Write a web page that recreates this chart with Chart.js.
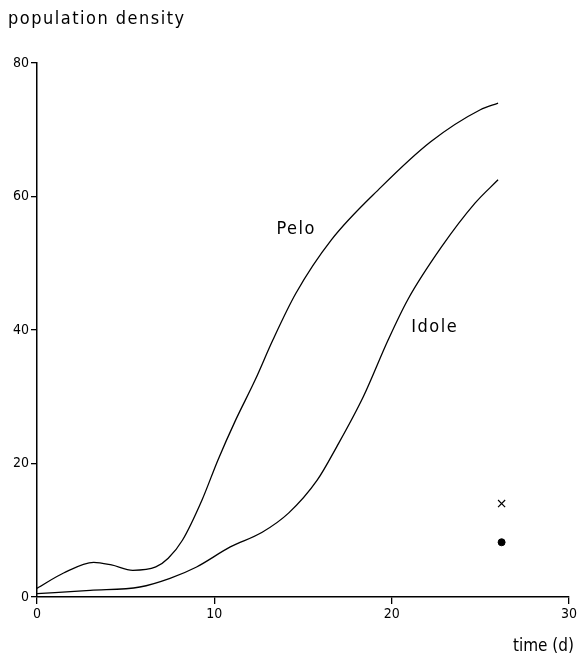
<!DOCTYPE html>
<html>
<head>
<meta charset="utf-8">
<script src="https://cdn.jsdelivr.net/npm/chart.js@4"></script>
<style>
  html, body { margin: 0; padding: 0; background: #fff; }
  #wrap { width: 579px; height: 667px; position: relative; }
</style>
</head>
<body>
<div id="wrap"><canvas id="chart"></canvas></div>
<script>
// Data
const peloDays = [0, 1.5, 3.2, 4.2, 5.4, 6.7, 7.4, 8.2, 9.3, 10.2, 11.2, 12.3, 13.3, 14.6, 16.6, 19.4, 22.2, 25, 26];
const peloDensity = [1.3, 3.6, 5.2, 4.8, 4.0, 4.5, 5.8, 8.5, 14.5, 20.5, 26.5, 32.5, 38.5, 45.5, 53.5, 61.4, 68.2, 73, 74];

const idoleDays = [0, 3, 5.8, 7.5, 9, 10.9, 12.7, 14.2, 15.8, 16.9, 18.4, 19.8, 20.9, 22.8, 24.7, 26];
const idoleDensity = [0.5, 1.0, 1.5, 2.8, 4.5, 7.5, 9.7, 12.6, 17.5, 22.5, 30, 38.5, 44.5, 52.4, 59, 62.5];

const crossPoint = [{ x: 26.2, y: 14 }];
const dotPoint = [{ x: 26.2, y: 8.2 }];

const xTicks = [0, 10, 20, 30];
const yTicks = [0, 20, 40, 60, 80];

const curveLabels = [
  { text: "Pelo", x: 13.5, y: 55.1 },
  { text: "Idole", x: 21.1, y: 40.4 },
];

const toPoints = (xs, ys) => xs.map((x, i) => ({ x: x, y: ys[i] }));

const textFont = "18px 'DejaVu Sans Condensed'";

// draws the axis titles and curve names
const labelPlugin = {
  id: "labels",
  afterDraw(chart) {
    const ctx = chart.ctx;
    const xs = chart.scales.x;
    const ys = chart.scales.y;
    ctx.save();
    ctx.fillStyle = "#000";
    ctx.font = textFont;
    ctx.letterSpacing = "1.5px";
    ctx.textBaseline = "middle";
    ctx.textAlign = "left";
    ctx.fillText("population density", 8, 19);
    curveLabels.forEach((l) => {
      ctx.fillText(l.text, xs.getPixelForValue(l.x), ys.getPixelForValue(l.y));
    });
    ctx.letterSpacing = "0px";
    ctx.font = "17px 'DejaVu Sans Condensed'";
    ctx.textAlign = "right";
    ctx.fillText("time (d)", 574, 647);
    ctx.restore();
  },
};

const lineStyle = {
  borderColor: "#000",
  borderWidth: 1.3,
  pointRadius: 0,
  fill: false,
  cubicInterpolationMode: "monotone",
};

const tickFont = { family: "DejaVu Sans Condensed", size: 14 };

new Chart(document.getElementById("chart"), {
  type: "line",
  data: {
    datasets: [
      { label: "Pelo", data: toPoints(peloDays, peloDensity), ...lineStyle },
      { label: "Idole", data: toPoints(idoleDays, idoleDensity), ...lineStyle },
      {
        type: "scatter",
        label: "x",
        data: crossPoint,
        pointStyle: "crossRot",
        pointRadius: 5,
        borderColor: "#000",
        borderWidth: 1.2,
      },
      {
        type: "scatter",
        label: "dot",
        data: dotPoint,
        pointStyle: "circle",
        pointRadius: 3.5,
        backgroundColor: "#000",
        borderColor: "#000",
      },
    ],
  },
  options: {
    responsive: true,
    maintainAspectRatio: false,
    animation: false,
    layout: { padding: { top: 63, right: 8, left: 0, bottom: 0 } },
    plugins: { legend: { display: false }, tooltip: { enabled: false } },
    scales: {
      x: {
        type: "linear",
        min: 0,
        max: 30,
        afterBuildTicks: (axis) => { axis.ticks = xTicks.map((v) => ({ value: v })); },
        afterFit: (axis) => { axis.height = 70; },
        border: { display: true, color: "#000", width: 1.5 },
        grid: { drawOnChartArea: false, drawTicks: true, tickLength: 7, color: "#000", lineWidth: 1.3 },
        ticks: { color: "#000", font: tickFont, padding: 2 },
      },
      y: {
        type: "linear",
        min: 0,
        max: 80,
        afterBuildTicks: (axis) => { axis.ticks = yTicks.map((v) => ({ value: v })); },
        afterFit: (axis) => { axis.width = 37; },
        border: { display: true, color: "#000", width: 1.5 },
        grid: { drawOnChartArea: false, drawTicks: true, tickLength: 6, color: "#000", lineWidth: 1.3 },
        ticks: { color: "#000", font: tickFont, padding: 2 },
      },
    },
  },
  plugins: [labelPlugin],
});
</script>
</body>
</html>
